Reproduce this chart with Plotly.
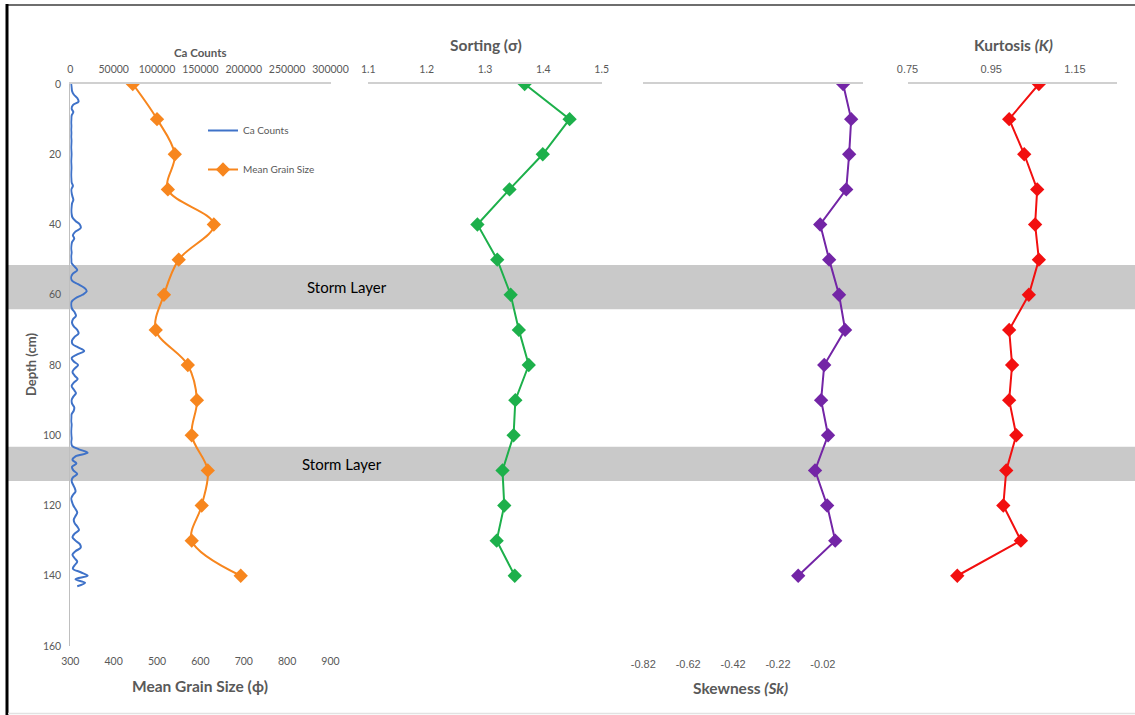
import plotly.graph_objects as go

# ---------------- data ----------------
# Ca counts, 1 cm resolution scan
ca_depth = list(range(0, 144))
ca_counts = [
    1000, 1500, 2000, 4000, 8000, 9500, 3000, 1500, 3500, 1500,
    1200, 1000, 1200, 1000, 1200, 1000, 1300, 1200, 1000, 1200,
    1400, 1200, 1000, 1200, 1300, 1100, 1000, 1200, 1500, 3000,
    1200, 1500, 2500, 3500, 2000, 1500, 1200, 1500, 2500, 6000,
    11000, 12000, 6000, 3000, 4500, 2000, 1200, 1000, 1500, 1000,
    1200, 1500, 5000, 8000, 3000, 800, 2000, 9000, 16000, 19000,
    14000, 6000, 1500, 1000, 2000, 5000, 6500, 3000, 2000, 4000,
    8000, 9500, 5000, 2000, 2500, 9000, 16000, 8000, 1500, 4000,
    9000, 5000, 2500, 5000, 8500, 4000, 1500, 4000, 6500, 3500,
    1500, 2000, 4500, 4000, 1500, 1200, 1000, 1500, 1200, 1000,
    1200, 1500, 1000, 2000, 10000, 20000, 6000, 2500, 7000, 2000,
    3500, 8000, 3000, 1500, 3000, 5000, 6000, 3000, 1000, 2000,
    3500, 6000, 8000, 6000, 4000, 5000, 8000, 10000, 5000, 2500,
    6000, 11000, 12000, 6000, 2500, 5000, 8000, 5000, 3000, 12000,
    20000, 6000, 17000, 8000,
]

# grain-size statistics, 10 cm sampling
depth = [0, 10, 20, 30, 40, 50, 60, 70, 80, 90, 100, 110, 120, 130, 140]
mean_grain_size = [444, 500, 541, 525, 631, 550, 516, 497, 571, 592, 580, 617, 603, 580, 693]
sorting = [1.368, 1.445, 1.399, 1.342, 1.287, 1.321, 1.344, 1.358, 1.375, 1.352,
           1.349, 1.330, 1.333, 1.320, 1.351]
skewness = [0.070, 0.106, 0.097, 0.084, -0.032, 0.008, 0.052, 0.079, -0.014, -0.028,
            0.003, -0.055, -0.001, 0.035, -0.130]
kurtosis = [1.064, 0.993, 1.029, 1.060, 1.055, 1.064, 1.040, 0.993, 1.000, 0.993,
            1.010, 0.986, 0.979, 1.021, 0.869]

# storm layers (top, bottom depth in cm)
storm_layers = [(51.5, 64.1), (103.3, 113.0)]
storm_label = "Storm Layer"

# axis ticks
depth_ticks = [0, 20, 40, 60, 80, 100, 120, 140, 160]
ca_ticks = [0, 50000, 100000, 150000, 200000, 250000, 300000]
mgs_ticks = [300, 400, 500, 600, 700, 800, 900]
sorting_ticks = [1.1, 1.2, 1.3, 1.4, 1.5]
skew_ticks = [-0.82, -0.62, -0.42, -0.22, -0.02]
kurt_ticks = [0.75, 0.95, 1.15]

# ---------------- layout helpers ----------------
W, H = 1135, 715


def fx(p):
    return p / W


def fy(p):
    return 1 - p / H


GREY_TXT = "#595959"
AXIS_LINE = "#D0D0D0"
FONT = "Lato"
TICK_FONT = dict(family=FONT, size=10.5, color=GREY_TXT)
ARIAL_TICK = dict(family="Liberation Sans", size=11, color=GREY_TXT)

BLUE = "#3F72C8"
ORANGE = "#F7861E"
GREEN = "#1DB04B"
PURPLE = "#7325A6"
RED = "#F20F0F"

fig = go.Figure()

fig.add_trace(go.Scatter(
    x=ca_counts, y=ca_depth, xaxis="x", yaxis="y", mode="lines",
    name="Ca Counts", legendgroup="a",
    line=dict(color=BLUE, width=2, shape="spline", smoothing=1.0),
))
fig.add_trace(go.Scatter(
    x=mean_grain_size, y=depth, xaxis="x2", yaxis="y", mode="lines+markers",
    name="Mean Grain Size", legendgroup="b",
    line=dict(color=ORANGE, width=2, shape="spline", smoothing=1.0),
    marker=dict(symbol="diamond", size=11, color=ORANGE),
))
fig.add_trace(go.Scatter(
    x=sorting, y=depth, xaxis="x3", yaxis="y", mode="lines+markers",
    showlegend=False, line=dict(color=GREEN, width=2),
    marker=dict(symbol="diamond", size=11, color=GREEN),
))
fig.add_trace(go.Scatter(
    x=skewness, y=depth, xaxis="x4", yaxis="y", mode="lines+markers",
    showlegend=False, line=dict(color=PURPLE, width=2),
    marker=dict(symbol="diamond", size=11, color=PURPLE),
))
fig.add_trace(go.Scatter(
    x=kurtosis, y=depth, xaxis="x5", yaxis="y", mode="lines+markers",
    showlegend=False, line=dict(color=RED, width=2),
    marker=dict(symbol="diamond", size=11, color=RED),
))
# invisible trace so the bottom skewness axis gets drawn
fig.add_trace(go.Scatter(
    x=[skew_ticks[0]], y=[None], xaxis="x6", yaxis="y", mode="lines",
    showlegend=False, hoverinfo="skip",
))

common = dict(showgrid=False, zeroline=False, ticks="", fixedrange=True, automargin=False)

fig.update_layout(
    width=W, height=H,
    margin=dict(l=0, r=0, t=0, b=0, pad=0, autoexpand=False),
    paper_bgcolor="white", plot_bgcolor="rgba(0,0,0,0)",
    font=dict(family=FONT, color=GREY_TXT),
    yaxis=dict(
        domain=[fy(646), fy(84)], range=[160, 0], anchor="x",
        tickvals=depth_ticks, ticktext=[str(v) for v in depth_ticks],
        showline=True, linecolor="#BFBFBF", linewidth=1,
        tickfont=TICK_FONT, ticklabelstandoff=6, **common,
    ),
    xaxis=dict(
        domain=[fx(70.3), fx(330.5)], range=[0, 300000], side="top", anchor="y",
        tickvals=ca_ticks, ticktext=[str(v) for v in ca_ticks],
        showline=True, linecolor=AXIS_LINE, linewidth=1.5,
        tickfont=TICK_FONT, ticklabelstandoff=5, **common,
    ),
    xaxis2=dict(
        overlaying="x", range=[300, 900], side="bottom", anchor="y",
        tickvals=mgs_ticks, ticktext=[str(v) for v in mgs_ticks],
        showline=False, tickfont=TICK_FONT, ticklabelstandoff=7, **common,
    ),
    xaxis3=dict(
        domain=[fx(368.3), fx(601.7)], range=[1.1, 1.5], side="top", anchor="y",
        tickvals=sorting_ticks, ticktext=[str(v) for v in sorting_ticks],
        showline=True, linecolor=AXIS_LINE, linewidth=1.5,
        tickfont=TICK_FONT, ticklabelstandoff=5, **common,
    ),
    xaxis4=dict(
        domain=[fx(643.3), fx(863.3)], range=[-0.82, 0.16], side="top", anchor="y",
        showticklabels=False, showline=True, linecolor=AXIS_LINE, linewidth=1.5,
        **common,
    ),
    xaxis6=dict(
        overlaying="x4", range=[-0.82, 0.16], side="bottom", anchor="y",
        tickvals=skew_ticks, ticktext=[f"{v:.2f}" for v in skew_ticks],
        showline=False, tickfont=ARIAL_TICK, ticklabelstandoff=10, **common,
    ),
    xaxis5=dict(
        domain=[fx(907.5), fx(1116.7)], range=[0.75, 1.25], side="top", anchor="y",
        tickvals=kurt_ticks, ticktext=[f"{v:.2f}" for v in kurt_ticks],
        showline=True, linecolor=AXIS_LINE, linewidth=1.5,
        tickfont=ARIAL_TICK, ticklabelstandoff=5, **common,
    ),
    legend=dict(
        x=fx(203), y=fy(116), xanchor="left", yanchor="top",
        bgcolor="rgba(0,0,0,0)", borderwidth=0,
        font=dict(family=FONT, size=10, color=GREY_TXT),
        tracegroupgap=20, itemwidth=30,
    ),
    showlegend=True,
)

shapes = []
for top, bot in storm_layers:
    shapes.append(dict(
        type="rect", xref="paper", yref="y", x0=fx(8), x1=1, y0=top, y1=bot,
        fillcolor="#C9C9C9", line=dict(width=0), layer="below",
    ))
# frame edges
shapes.append(dict(type="line", xref="paper", yref="paper", x0=fx(6), x1=1,
                   y0=fy(5), y1=fy(5), line=dict(color="#6E6E6E", width=2)))
shapes.append(dict(type="line", xref="paper", yref="paper", x0=fx(7), x1=fx(7),
                   y0=fy(4), y1=0, line=dict(color="black", width=3)))
shapes.append(dict(type="line", xref="paper", yref="paper", x0=fx(8), x1=1,
                   y0=fy(713.5), y1=fy(713.5), line=dict(color="#E2E2E2", width=1.5)))
fig.update_layout(shapes=shapes)

annotations = []
label_x = [347, 342]
for (top, bot), lx in zip(storm_layers, label_x):
    annotations.append(dict(
        x=fx(lx), xref="paper", y=(top + bot) / 2, yref="y",
        xanchor="center", yanchor="middle",
        text=storm_label, showarrow=False,
        font=dict(family=FONT, size=15, color="#000000"),
    ))


def title(text, x, y, size, angle=0):
    return dict(x=fx(x), y=fy(y), xref="paper", yref="paper", text=text,
                showarrow=False, textangle=angle, xanchor="center", yanchor="middle",
                font=dict(family=FONT, size=size, color=GREY_TXT))


annotations += [
    title("<b>Ca Counts</b>", 200, 52, 11.5),
    title("<b>Sorting (σ)</b>", 486, 45, 15.5),
    title("<b>Kurtosis <i>(K)</i></b>", 1013, 45, 15.5),
    title("<b>Mean Grain Size (ϕ)</b>", 200, 686, 15.5),
    title("<b>Skewness <i>(Sk)</i></b>", 740, 688, 15.5),
    title("<b>Depth (cm)</b>", 31, 365, 13, angle=-90),
]
fig.update_layout(annotations=annotations)

fig.write_html("out.html")
